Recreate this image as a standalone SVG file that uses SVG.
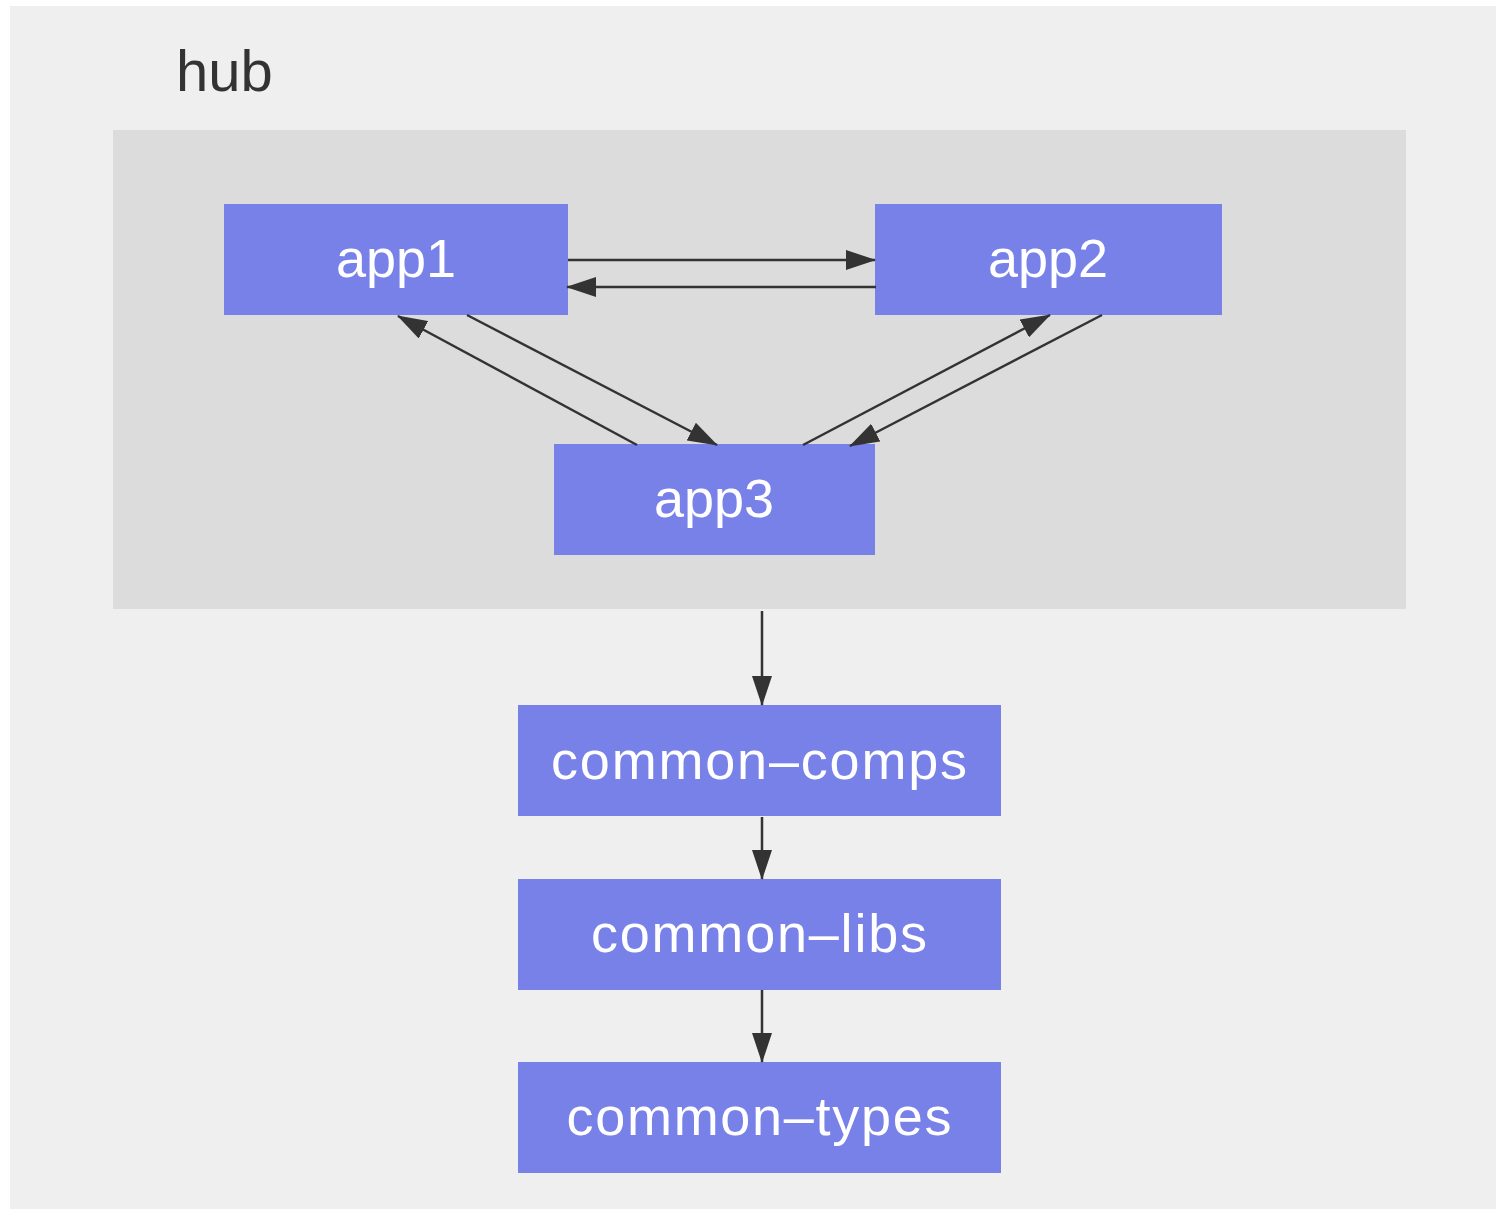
<svg xmlns="http://www.w3.org/2000/svg" width="1496" height="1209" viewBox="0 0 1496 1209">
  <style>
    .node { fill: #7881e8; }
    .label { font-family: "Liberation Sans", Arial, sans-serif; font-size: 54px; fill: #ffffff; text-anchor: middle; }
    .title { font-family: "Liberation Sans", Arial, sans-serif; font-size: 58px; fill: #333333; }
    .edge { stroke: #333333; stroke-width: 2.5; fill: none; marker-end: url(#arrow); }
  </style>
  <defs>
    <marker id="arrow" markerUnits="userSpaceOnUse" markerWidth="30" markerHeight="20" refX="29" refY="10" orient="auto" viewBox="0 0 30 20">
      <path d="M0,0 L30,10 L0,20 z" fill="#333333"/>
    </marker>
  </defs>
  <rect x="0" y="0" width="1496" height="1209" fill="#ffffff"/>
  <g id="hub-outer">
    <rect x="10" y="6" width="1486" height="1203" fill="#efefef"/>
    <text class="title" x="176" y="91">hub</text>
  </g>
  <g id="hub">
    <rect x="113" y="130" width="1293" height="479" fill="#dcdcdc"/>
  </g>
  <g id="app1">
    <rect class="node" x="224" y="204" width="344" height="111"/>
    <text class="label" x="396" y="277">app1</text>
  </g>
  <g id="app2">
    <rect class="node" x="875" y="204" width="347" height="111"/>
    <text class="label" x="1048" y="277">app2</text>
  </g>
  <g id="app3">
    <rect class="node" x="554" y="444" width="321" height="111"/>
    <text class="label" x="714" y="517">app3</text>
  </g>
  <g id="common-comps">
    <rect class="node" x="518" y="705" width="483" height="111"/>
    <text class="label" x="759" y="779" textLength="416" lengthAdjust="spacing">common–comps</text>
  </g>
  <g id="common-libs">
    <rect class="node" x="518" y="879" width="483" height="111"/>
    <text class="label" x="759" y="952" textLength="336" lengthAdjust="spacing">common–libs</text>
  </g>
  <g id="common-types">
    <rect class="node" x="518" y="1062" width="483" height="111"/>
    <text class="label" x="759" y="1135" textLength="385" lengthAdjust="spacing">common–types</text>
  </g>
  <g id="connectors">
    <path class="edge" d="M568,260 L875,260"/>
    <path class="edge" d="M876,287 L567,287"/>
    <path class="edge" d="M467,315 L717,445"/>
    <path class="edge" d="M637,445 L398,316"/>
    <path class="edge" d="M803,445 L1050,315"/>
    <path class="edge" d="M1102,315 L850,446"/>
    <path class="edge" d="M762,611 L762,705"/>
    <path class="edge" d="M762,817 L762,879"/>
    <path class="edge" d="M762,990 L762,1062"/>
  </g>
</svg>
